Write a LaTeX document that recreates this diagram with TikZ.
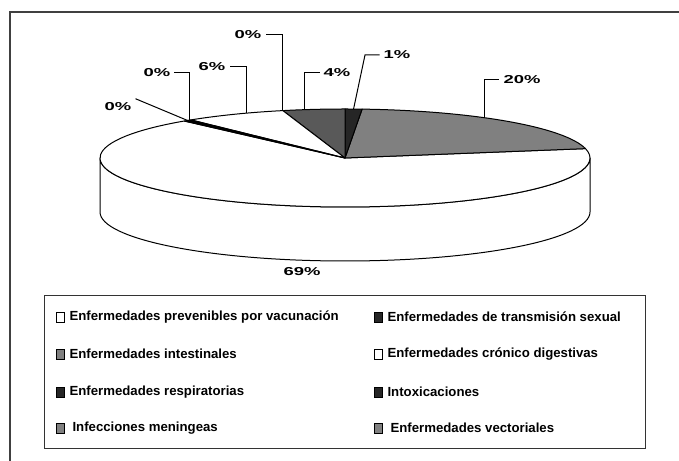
\documentclass[tikz,border=0pt]{standalone}
\usepackage{fontspec}
\setmainfont{Liberation Sans}
\newfontfamily\pctfont[FakeStretch=1.6]{Liberation Sans}
\usetikzlibrary{calc,positioning}

\tikzset{
	pct/.style={font=\pctfont\bfseries\fontsize{11.5}{13}\selectfont, inner sep=4pt},
	leader/.style={line width=1pt},
	rim/.style={line width=1pt, line join=round},
	legtext/.style={font=\bfseries\fontsize{13.2}{15}\selectfont, anchor=west, inner sep=0pt},
	swatch/.style={draw, line width=0.7pt, minimum width=8pt, minimum height=10pt, inner sep=0pt}
}
\newcommand{\rimpt}[1]{($(C)+({245*cos(#1)},{49*sin(#1)})$)}
\newcommand{\pieslice}[3]{\filldraw[rim, fill=#3] (C) -- \rimpt{#1} arc[start angle=#1, end angle=#2, x radius=245, y radius=49] -- cycle;}

\begin{document}
\begin{tikzpicture}[x=1pt,y=1pt]
	\useasboundingbox (0,0) rectangle (679,460);
	\clip (0,0) rectangle (679,460);
	\fill[white] (0,0) rectangle (679,460);
	\draw[line width=1.3pt, black!75] (10,-10) -- (10,448) -- (690,448);
	\coordinate (C) at (345,302);
	% side of the pie
	\filldraw[rim, fill=white] \rimpt{180} -- ++(0,-54) arc[start angle=180, end angle=360, x radius=245, y radius=49] -- ++(0,54) arc[start angle=360, end angle=180, x radius=245, y radius=49] -- cycle;
	% slices
	\pieslice{131}{371}{white}
	\pieslice{11}{86}{black!50}
	\pieslice{86}{90}{black!85}
	\pieslice{90}{104.7}{black!65}
	\pieslice{104.7}{129}{white}
	\pieslice{129}{131}{black}
	% rim points for the leaders
	\path \rimpt{104.7} coordinate (r0a);
	\path \rimpt{113.6} coordinate (r6);
	\path \rimpt{129.5} coordinate (r0b);
	\path \rimpt{130} coordinate (r0c);
	\path \rimpt{99.4} coordinate (r4);
	\path \rimpt{88} coordinate (r1);
	\path \rimpt{55.2} coordinate (r20);
	\coordinate (k1) at (365,405);
	% labels
	\node[pct] (p0a) at (248,425) {0\%};
	\node[pct] (p6) at (212,393) {6\%};
	\node[pct] (p0b) at (157,387) {0\%};
	\node[pct] (p0c) at (118,353) {0\%};
	\node[pct] (p4) at (337,387) {4\%};
	\node[pct] (p1) at (397,405) {1\%};
	\node[pct] (p20) at (522,380) {20\%};
	\node[pct] (p69) at (302,188) {69\%};
	\draw[leader] (r0a) |- (p0a.east);
	\draw[leader] (r6) |- (p6.east);
	\draw[leader] (r0b) |- (p0b.east);
	\draw[leader] (r0c) -- (p0c.north east);
	\draw[leader] (r4) |- (p4.west);
	\draw[leader] (r1) -- (k1) -- (p1.west);
	\draw[leader] (r20) |- (p20.west);
	% legend
	\draw[line width=1pt, black!80] (44,12) rectangle (645,164);
	\node[swatch, fill=white] (s1) at (60,143) {};
	\node[legtext, right=5pt of s1] (t1) {Enfermedades prevenibles por vacunación};
	\node[swatch, fill=black!50] (s2) at (60,106) {};
	\node[legtext, right=5pt of s2] (t2) {Enfermedades intestinales};
	\node[swatch, fill=black!85] (s3) at (60,68) {};
	\node[legtext, right=5pt of s3] (t3) {Enfermedades respiratorias};
	\node[swatch, fill=black!50] (s4) at (60,32) {};
	\node[legtext, right=8pt of s4] (t4) {Infecciones meningeas};
	\node[swatch, fill=black!85] (s5) at (378,143) {};
	\node[legtext, right=5pt of s5] (t5) {Enfermedades de transmisión sexual};
	\node[swatch, fill=white] (s6) at (378,106) {};
	\node[legtext, right=5pt of s6] (t6) {Enfermedades crónico digestivas};
	\node[swatch, fill=black!85] (s7) at (378,68) {};
	\node[legtext, right=5pt of s7] (t7) {Intoxicaciones};
	\node[swatch, fill=black!50] (s8) at (378,32) {};
	\node[legtext, right=8pt of s8] (t8) {Enfermedades vectoriales};
\end{tikzpicture}
\end{document}
